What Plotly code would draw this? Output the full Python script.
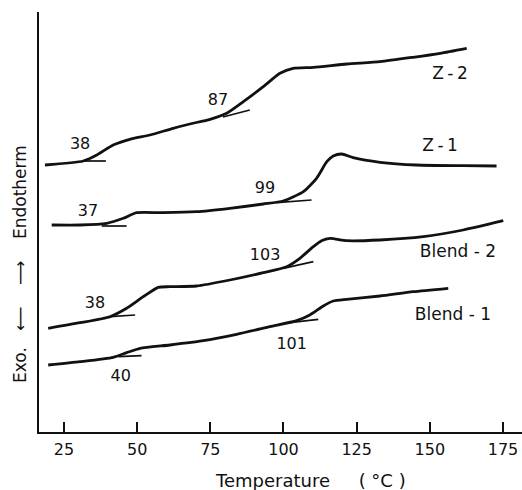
import plotly.graph_objects as go

# DSC traces: temperature (°C) and signal (arbitrary units, height above baseline axis)
z2_t = [18.5, 31.6, 36.2, 41.8, 47.5, 54.4, 62.3, 68.0, 74.9, 80.6, 86.3, 93.1, 98.8, 103.3, 110.2, 121.6, 133.0, 144.3, 153.5, 162.6]
z2_y = [267, 271, 277, 287, 292.7, 297, 303.7, 308, 312.7, 318.7, 330.3, 345.3, 358.7, 363.7, 364.7, 368, 370.3, 374.7, 378.7, 383.7]

z1_t = [20.8, 30.5, 39.6, 45.3, 49.8, 58.9, 70.3, 81.7, 93.1, 99.9, 106.8, 111.3, 114.8, 117.0, 119.9, 123.8, 133.0, 145.5, 161.4, 172.8]
z1_y = [207, 207, 208.7, 213.7, 219.3, 219.3, 220.3, 223.7, 228, 231, 240.3, 253.7, 270.3, 276, 278, 274.3, 269.7, 267, 266.3, 266]

b2_t = [19.6, 30.5, 40.7, 46.4, 52.1, 57.2, 61.2, 70.3, 81.7, 93.1, 101.1, 105.6, 110.2, 113.0, 115.9, 121.6, 133.0, 147.8, 161.4, 175.1]
b2_y = [103.7, 109.3, 115.3, 123.7, 135.3, 144.7, 145.3, 146, 152, 159.3, 165.3, 173.7, 185.3, 191.3, 193.7, 191.3, 192, 195.3, 202, 211.3]

b1_t = [19.6, 30.5, 41.8, 46.4, 51.0, 61.2, 72.6, 84.0, 95.4, 104.5, 109.0, 113.6, 117.0, 121.6, 133.0, 144.3, 156.3]
b1_y = [67, 70.3, 74.7, 79.3, 83.7, 87, 91.3, 97.7, 105.3, 111.3, 117, 126, 131, 132.7, 136, 140.3, 143.7]

# tangent construction lines (pairs of end points)
tangents = [
    ([31.5, 39.3], [271, 271]),
    ([79.3, 88.5], [315, 322]),
    ([37.9, 46.4], [206, 206]),
    ([97.7, 109.6], [229.3, 232]),
    ([40.7, 49.3], [115.3, 117]),
    ([99.9, 110.2], [163.7, 170.3]),
    ([43.6, 51.5], [75.3, 76.3]),
    ([102.2, 111.9], [109.3, 112.7]),
]

# onset / transition labels
label_text = ["38", "87", "37", "99", "38", "103", "40", "101"]
label_t = [30.5, 77.6, 33.2, 93.7, 35.6, 93.7, 44.4, 102.8]
label_y = [287, 331, 220, 243, 128, 176, 55, 87]

# sample names
name_text = ["Z\u2009-\u20092", "Z\u2009-\u20091", "Blend\u00a0-\u00a02", "Blend\u00a0-\u00a01"]
name_t = [156.9, 153.5, 159.6, 157.9]
name_y = [357, 285, 179, 116]

x_ticks = [25, 50, 75, 100, 125, 150, 175]

FONT = "DejaVu Sans"
INK = "#111111"

fig = go.Figure()
for t, y in [(z2_t, z2_y), (z1_t, z1_y), (b2_t, b2_y), (b1_t, b1_y)]:
    fig.add_trace(go.Scatter(x=t, y=y, mode="lines", line=dict(color=INK, width=2.8, shape="spline", smoothing=0.6),
                             showlegend=False, hoverinfo="skip"))
for t, y in tangents:
    fig.add_trace(go.Scatter(x=t, y=y, mode="lines", line=dict(color=INK, width=1.7),
                             showlegend=False, hoverinfo="skip"))

fig.add_trace(go.Scatter(x=label_t, y=label_y, mode="text", text=label_text,
                         textfont=dict(family=FONT, size=16, color=INK), showlegend=False, hoverinfo="skip"))
fig.add_trace(go.Scatter(x=name_t, y=name_y, mode="text", text=name_text,
                         textfont=dict(family=FONT, size=17, color=INK), showlegend=False, hoverinfo="skip"))

fig.update_layout(
    width=522, height=490,
    margin=dict(l=39, r=0, t=12, b=58),
    paper_bgcolor="white", plot_bgcolor="white",
    xaxis=dict(range=[16.46, 181.5], tickvals=x_ticks, ticktext=[str(v) for v in x_ticks],
               ticks="inside", ticklen=10, tickwidth=2, tickcolor=INK,
               showline=True, linecolor=INK, linewidth=2, showgrid=False, zeroline=False,
               tickfont=dict(family=FONT, size=16, color=INK), ticklabelstandoff=2),
    yaxis=dict(range=[0, 420], showticklabels=False, ticks="", showline=True, linecolor=INK,
               linewidth=2, showgrid=False, zeroline=False),
    annotations=[
        dict(text="Temperature\u00a0\u00a0\u00a0\u00a0\u00a0(\u00a0°C\u00a0)", xref="paper", yref="paper",
             x=(310 - 39) / 483, y=(432 - 480) / 420, xanchor="center", yanchor="middle",
             showarrow=False, font=dict(family=FONT, size=18, color=INK)),
        dict(text="Exo.\u00a0\u00a0\u00a0⟵\u00a0\u00a0\u00a0\u00a0⟶\u00a0\u00a0\u00a0\u00a0Endotherm", xref="paper", yref="paper",
             x=(20 - 39) / 483, y=(432 - 264) / 420, xanchor="center", yanchor="middle",
             textangle=-90, showarrow=False, font=dict(family=FONT, size=17, color=INK)),
    ],
)

fig.write_html("out.html")
